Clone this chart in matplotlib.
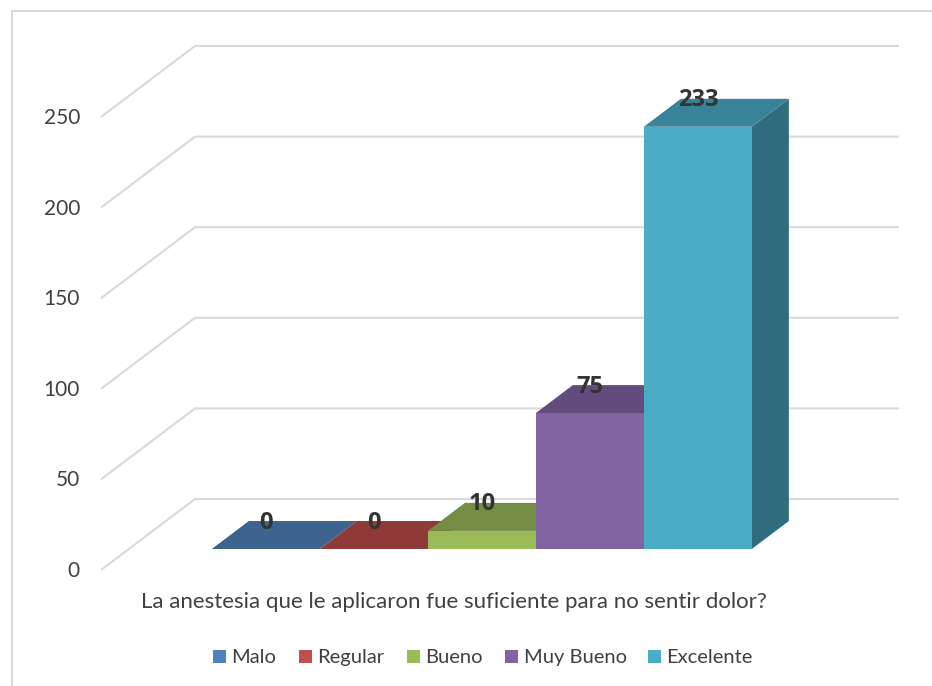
import matplotlib
matplotlib.use('Agg')
import matplotlib.pyplot as plt
from matplotlib.patches import Polygon, Rectangle

# Data
categories = ['Malo', 'Regular', 'Bueno', 'Muy Bueno', 'Excelente']
values = [0, 0, 10, 75, 233]
y_ticks = [0, 50, 100, 150, 200, 250]
x_title = 'La anestesia que le aplicaron fue suficiente para no sentir dolor?'

front_colors = ['#4F81BD', '#C0504D', '#9BBB59', '#8064A2', '#4BACC6']
top_colors = ['#3D648F', '#8F3A38', '#748C43', '#624B7D', '#38839A']
side_colors = ['#335376', '#76302E', '#607437', '#513E67', '#2F6C7D']

# Oblique projection, one x unit is one bar slot, y is in chart values
px_x = 108.0
px_y = 1.812
origin_x, origin_y = 101, 570
W, H = 932, 686
depth_x = 94 / px_x
depth_y = 71 / px_y
floor_w = 704 / px_x
gap = 83 / px_x
bar_d0 = 0.296
bar_d1 = 0.69
font = 'Lato'
text_color = '#404040'
grid_color = '#D9D9D9'

# legend layout in pixels, left edge of each swatch and label
legend_swatch_x = [213, 299, 407, 505, 648]
legend_text_x = [231, 317, 425, 524, 666]
legend_top, legend_bottom = 650, 663


def proj(x, v, d):
    return x + d * depth_x, v + d * depth_y


fig = plt.figure(figsize=(W / 100, H / 100), dpi=100)
ax = fig.add_axes([0, 0, 1, 1])
ax.set_xlim(-origin_x / px_x, (W - origin_x) / px_x)
ax.set_ylim((origin_y - H) / px_y, origin_y / px_y)
ax.axis('off')

# chart border, runs off the right and bottom of the image
fig.add_artist(Rectangle((11.5 / W, -0.05), 1.1, 1.05 - 11.5 / H, transform=fig.transFigure,
                         fill=False, edgecolor=grid_color, linewidth=1.5))

# gridlines on the side wall and back wall
for tick in y_ticks:
    x0, y0 = proj(0, tick, 0)
    x1, y1 = proj(0, tick, 1)
    x2, y2 = proj(floor_w, tick, 1)
    ax.plot([x0, x1, x2], [y0, y1, y2], color=grid_color, linewidth=1.5, zorder=1,
            solid_joinstyle='miter', solid_capstyle='butt')
    ax.text(x0 - 21 / px_x, y0 - 1 / px_y, str(tick), ha='right', va='center', family=font,
            fontsize=15, color=text_color)

# bars, left to right so that each one covers the previous side face
for i, val in enumerate(values):
    left = gap + i
    right = left + 1
    a = proj(left, 0, bar_d0)
    b = proj(right, 0, bar_d0)
    c = proj(right, val, bar_d0)
    d = proj(left, val, bar_d0)
    e = proj(left, val, bar_d1)
    f = proj(right, val, bar_d1)
    g = proj(right, 0, bar_d1)
    z = 2 + i
    ax.add_patch(Polygon([b, g, f, c], facecolor=side_colors[i], edgecolor='none', zorder=z))
    ax.add_patch(Polygon([d, c, f, e], facecolor=top_colors[i], edgecolor='none', zorder=z))
    ax.add_patch(Polygon([a, b, c, d], facecolor=front_colors[i], edgecolor='none', zorder=z))

for i, val in enumerate(values):
    x_lab = proj(gap + i + 0.5, val, bar_d0)[0]
    y_lab = proj(0, val, bar_d1)[1] - 1.5 / px_y
    ax.text(x_lab, y_lab, str(val), ha='center', va='center', family='Open Sans', fontweight='bold',
            fontsize=17, color='#333333', zorder=20)

ax.text(453.5 / W, 1 - 601.5 / H, x_title, transform=ax.transAxes, ha='center', va='center',
        family=font, fontsize=16, color=text_color)

# legend drawn by hand, the legend box shifts labels that have descenders
for name, color, sx, tx in zip(categories, front_colors, legend_swatch_x, legend_text_x):
    ax.add_patch(Rectangle((sx / W, 1 - legend_bottom / H), 13 / W, (legend_bottom - legend_top) / H,
                           transform=ax.transAxes, facecolor=color, edgecolor='none'))
    ax.text(tx / W, 1 - legend_bottom / H, name, transform=ax.transAxes, ha='left', va='baseline',
            family=font, fontsize=14.5, color=text_color)

fig.savefig('out.png', dpi=100)
